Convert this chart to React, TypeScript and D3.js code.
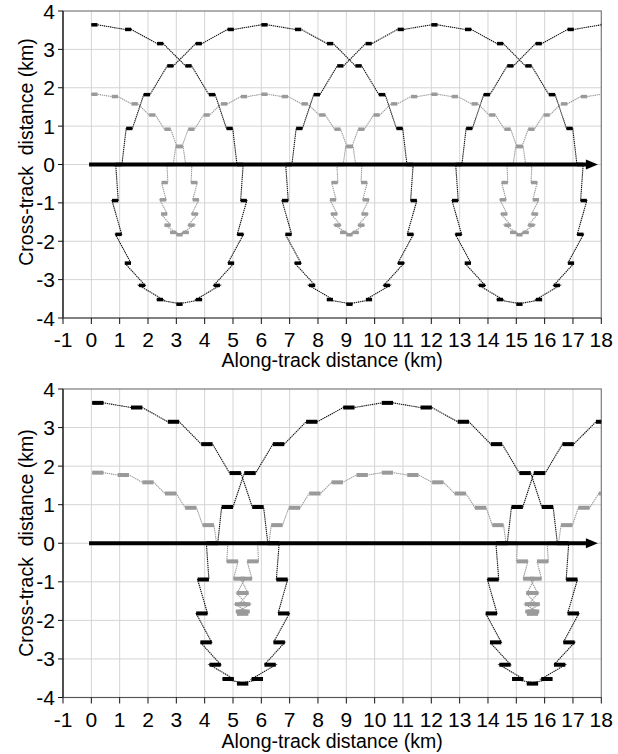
import React from 'react';
import * as d3 from 'd3';

// ---------- data ----------
const X_TICKS = [-1, 0, 1, 2, 3, 4, 5, 6, 7, 8, 9, 10, 11, 12, 13, 14, 15, 16, 17, 18];
const Y_TICKS = [-4, -3, -2, -1, 0, 1, 2, 3, 4];
const X_LABEL = 'Along-track distance (km)';
const Y_LABEL = 'Cross-track\u00a0\u00a0distance (km)';
const TRACK_ARROW = [-0.08, 17.88];

// Top panel: outer (black) footprint start positions and cross-track distances
const TOP_OUTER_X = [
  0.00, 1.19, 2.32, 3.32, 4.15, 4.77, 5.14, 5.27, 5.15, 4.82, 4.32, 3.69, 3.00, 2.31, 1.68, 1.18, 0.85, 0.73, 0.86, 1.23, 1.85, 2.68, 3.68, 4.81,
  6.00, 7.19, 8.32, 9.32, 10.15, 10.77, 11.14, 11.27, 11.15, 10.82, 10.32, 9.69, 9.00, 8.31, 7.68, 7.18, 6.85, 6.73, 6.86, 7.23, 7.85, 8.68, 9.68, 10.81,
  12.00, 13.19, 14.32, 15.32, 16.15, 16.77, 17.14, 17.27, 17.15, 16.82, 16.32, 15.69, 15.00, 14.31, 13.68, 13.18, 12.85, 12.73, 12.86, 13.23, 13.85, 14.68, 15.68, 16.81,
  18.00,
];
const TOP_OUTER_Y = [
  3.64, 3.52, 3.15, 2.57, 1.82, 0.94, 0, -0.94, -1.82, -2.57, -3.15, -3.52, -3.64, -3.52, -3.15, -2.57, -1.82, -0.94, 0, 0.94, 1.82, 2.57, 3.15, 3.52,
  3.64, 3.52, 3.15, 2.57, 1.82, 0.94, 0, -0.94, -1.82, -2.57, -3.15, -3.52, -3.64, -3.52, -3.15, -2.57, -1.82, -0.94, 0, 0.94, 1.82, 2.57, 3.15, 3.52,
  3.64, 3.52, 3.15, 2.57, 1.82, 0.94, 0, -0.94, -1.82, -2.57, -3.15, -3.52, -3.64, -3.52, -3.15, -2.57, -1.82, -0.94, 0, 0.94, 1.82, 2.57, 3.15, 3.52,
  3.64,
];
// Top panel: inner (grey)
const TOP_INNER_X = [
  0.00, 0.72, 1.42, 2.04, 2.58, 3.02, 3.33, 3.52, 3.58, 3.54, 3.42, 3.22, 3.00, 2.78, 2.58, 2.46, 2.42, 2.48, 2.67, 2.98, 3.42, 3.96, 4.58, 5.28,
  6.00, 6.72, 7.42, 8.04, 8.58, 9.02, 9.33, 9.52, 9.58, 9.54, 9.42, 9.22, 9.00, 8.78, 8.58, 8.46, 8.42, 8.48, 8.67, 8.98, 9.42, 9.96, 10.58, 11.28,
  12.00, 12.72, 13.42, 14.04, 14.58, 15.02, 15.33, 15.52, 15.58, 15.54, 15.42, 15.22, 15.00, 14.78, 14.58, 14.46, 14.42, 14.48, 14.67, 14.98, 15.42, 15.96, 16.58, 17.28,
  18.00,
];
const TOP_INNER_Y = [
  1.83, 1.77, 1.58, 1.29, 0.92, 0.47, 0, -0.47, -0.92, -1.29, -1.58, -1.77, -1.83, -1.77, -1.58, -1.29, -0.92, -0.47, 0, 0.47, 0.92, 1.29, 1.58, 1.77,
  1.83, 1.77, 1.58, 1.29, 0.92, 0.47, 0, -0.47, -0.92, -1.29, -1.58, -1.77, -1.83, -1.77, -1.58, -1.29, -0.92, -0.47, 0, 0.47, 0.92, 1.29, 1.58, 1.77,
  1.83, 1.77, 1.58, 1.29, 0.92, 0.47, 0, -0.47, -0.92, -1.29, -1.58, -1.77, -1.83, -1.77, -1.58, -1.29, -0.92, -0.47, 0, 0.47, 0.92, 1.29, 1.58, 1.77,
  1.83,
];

// Bottom panel: outer (black)
const BOTTOM_OUTER_X = [
  0.03, 1.40, 2.70, 3.88, 4.88, 5.68, 6.23, 6.53, 6.59, 6.43, 6.11, 5.66, 5.14, 4.63, 4.17, 3.85, 3.70, 3.75, 4.06, 4.60, 5.40, 6.41, 7.58, 8.89,
  10.25, 11.62, 12.93, 14.10, 15.11, 15.90, 16.45, 16.76, 16.81, 16.66, 16.33, 15.88, 15.37, 14.85, 14.40, 14.07, 13.92, 13.98, 14.28, 14.83, 15.62, 16.63, 17.81, 19.11,
];
const BOTTOM_OUTER_Y = [
  3.64, 3.52, 3.15, 2.57, 1.82, 0.94, 0, -0.94, -1.82, -2.57, -3.15, -3.52, -3.64, -3.52, -3.15, -2.57, -1.82, -0.94, 0, 0.94, 1.82, 2.57, 3.15, 3.52,
  3.64, 3.52, 3.15, 2.57, 1.82, 0.94, 0, -0.94, -1.82, -2.57, -3.15, -3.52, -3.64, -3.52, -3.15, -2.57, -1.82, -0.94, 0, 0.94, 1.82, 2.57, 3.15, 3.52,
];
// Bottom panel: inner (grey)
const BOTTOM_INNER_X = [
  0.03, 0.93, 1.80, 2.60, 3.31, 3.93, 4.42, 4.78, 5.02, 5.15, 5.21, 5.19, 5.14, 5.10, 5.07, 5.13, 5.27, 5.50, 5.87, 6.35, 6.97, 7.69, 8.48, 9.36,
  10.25, 11.15, 12.03, 12.82, 13.54, 14.15, 14.64, 15.01, 15.24, 15.38, 15.43, 15.41, 15.37, 15.32, 15.30, 15.35, 15.49, 15.73, 16.09, 16.58, 17.19, 17.91, 18.71,
];
const BOTTOM_INNER_Y = [
  1.83, 1.77, 1.58, 1.29, 0.92, 0.47, 0, -0.47, -0.92, -1.29, -1.58, -1.77, -1.83, -1.77, -1.58, -1.29, -0.92, -0.47, 0, 0.47, 0.92, 1.29, 1.58, 1.77,
  1.83, 1.77, 1.58, 1.29, 0.92, 0.47, 0, -0.47, -0.92, -1.29, -1.58, -1.77, -1.83, -1.77, -1.58, -1.29, -0.92, -0.47, 0, 0.47, 0.92, 1.29, 1.58,
];

const FONT = '"Liberation Sans", Arial, Helvetica, sans-serif';

type PanelProps = {
  id: string;
  top: number;
  bottom: number;
  tickBaseline: number;
  titleBaseline: number;
  yTitleCenter: number;
  outerX: number[];
  outerY: number[];
  innerX: number[];
  innerY: number[];
  barW: number;
  barH: number;
};

function Series({ xs, ys, sx, sy, barW, barH, lineColor, barColor }: any) {
  const pts: [number, number][] = [];
  xs.forEach((x: number, i: number) => {
    pts.push([x, ys[i]]);
    pts.push([x + barW, ys[i]]);
  });
  const line = d3.line<[number, number]>().x((d) => sx(d[0])).y((d) => sy(d[1]));
  return (
    <g>
      <path d={line(pts) || ''} fill="none" stroke={lineColor} strokeWidth={1.1} strokeDasharray="1.4 0.7" />
      {xs.map((x: number, i: number) => (
        <rect
          key={i}
          x={sx(x)}
          y={sy(ys[i]) - barH / 2}
          width={sx(x + barW) - sx(x)}
          height={barH}
          fill={barColor}
        />
      ))}
    </g>
  );
}

function Panel(p: PanelProps) {
  const left = 63;
  const right = 601.3;
  const sx = d3.scaleLinear().domain([-1, 18]).range([left, right]);
  const sy = d3.scaleLinear().domain([-4, 4]).range([p.bottom, p.top]);
  const clipId = `clip-${p.id}`;
  const y0 = sy(0);
  const ax0 = sx(TRACK_ARROW[0]);
  const tip = sx(TRACK_ARROW[1]);
  const headL = 12;
  const headH = 5;
  return (
    <g>
      <defs>
        <clipPath id={clipId}>
          <rect x={left} y={p.top} width={right - left} height={p.bottom - p.top} />
        </clipPath>
      </defs>
      {/* grid */}
      {X_TICKS.filter((t) => t > -1 && t < 18).map((t) => (
        <line key={'gx' + t} x1={sx(t)} x2={sx(t)} y1={p.top} y2={p.bottom} stroke="#d4d4d4" strokeWidth={1} />
      ))}
      {Y_TICKS.filter((t) => t > -4 && t < 4).map((t) => (
        <line key={'gy' + t} x1={left} x2={right} y1={sy(t)} y2={sy(t)} stroke="#d4d4d4" strokeWidth={1} />
      ))}
      {/* frame */}
      <rect x={left} y={p.top} width={right - left} height={p.bottom - p.top} fill="none" stroke="#7a7a7a" strokeWidth={1.2} />
      <line x1={left} x2={left} y1={p.top} y2={p.bottom} stroke="#111" strokeWidth={1.2} />
      <line x1={left} x2={right} y1={p.bottom} y2={p.bottom} stroke="#555" strokeWidth={1.2} />
      {/* ticks */}
      {Y_TICKS.map((t) => (
        <g key={'ty' + t}>
          <line x1={left - 5} x2={left} y1={sy(t)} y2={sy(t)} stroke="#111" strokeWidth={1} />
          <text x={55} y={sy(t) + 7.5} textAnchor="end" fontFamily={FONT} fontSize={21} fill="#000">
            {t}
          </text>
        </g>
      ))}
      {X_TICKS.map((t) => (
        <g key={'tx' + t}>
          <line x1={sx(t)} x2={sx(t)} y1={p.bottom} y2={p.bottom + 6} stroke="#111" strokeWidth={1} />
          <text x={sx(t)} y={p.tickBaseline} textAnchor="middle" fontFamily={FONT} fontSize={21} fill="#000">
            {t}
          </text>
        </g>
      ))}
      <text x={(left + right) / 2} y={p.titleBaseline} textAnchor="middle" fontFamily={FONT} fontSize={19.5} fill="#000">
        {X_LABEL}
      </text>
      <text
        transform={`translate(33,${p.yTitleCenter}) rotate(-90)`}
        textAnchor="middle"
        fontFamily={FONT}
        fontSize={19.5}
        fill="#000"
      >
        {Y_LABEL}
      </text>
      <g clipPath={`url(#${clipId})`}>
        <Series xs={p.innerX} ys={p.innerY} sx={sx} sy={sy} barW={p.barW} barH={p.barH} lineColor="#9a9a9a" barColor="#9a9a9a" />
        {/* along-track arrow */}
        <line x1={ax0} x2={tip - headL + 1} y1={y0} y2={y0} stroke="#000" strokeWidth={4} />
        <polygon points={`${tip},${y0} ${tip - headL},${y0 - headH} ${tip - headL},${y0 + headH}`} fill="#000" />
        <Series xs={p.outerX} ys={p.outerY} sx={sx} sy={sy} barW={p.barW} barH={p.barH} lineColor="#111" barColor="#000" />
      </g>
    </g>
  );
}

export default function App() {
  return (
    <svg width={618} height={754} style={{ position: 'absolute', left: 0, top: 0, background: '#fff' }}>
      <rect x={0} y={0} width={618} height={754} fill="#fff" />
      <Panel
        id="top"
        top={11}
        bottom={318}
        tickBaseline={346.5}
        titleBaseline={367}
        yTitleCenter={152}
        outerX={TOP_OUTER_X}
        outerY={TOP_OUTER_Y}
        innerX={TOP_INNER_X}
        innerY={TOP_INNER_Y}
        barW={0.22}
        barH={3.5}
      />
      <Panel
        id="bottom"
        top={389}
        bottom={697.5}
        tickBaseline={726.5}
        titleBaseline={748}
        yTitleCenter={543}
        outerX={BOTTOM_OUTER_X}
        outerY={BOTTOM_OUTER_Y}
        innerX={BOTTOM_INNER_X}
        innerY={BOTTOM_INNER_Y}
        barW={0.4}
        barH={4}
      />
    </svg>
  );
}
